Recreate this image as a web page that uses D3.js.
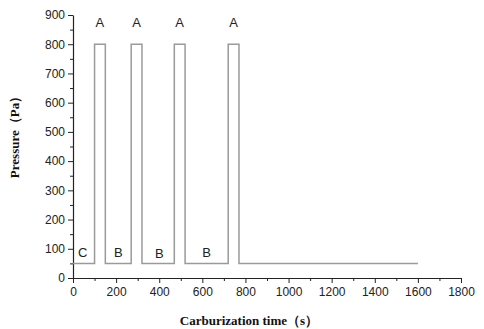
<!DOCTYPE html>
<html>
<head>
<meta charset="utf-8">
<script src="https://cdn.jsdelivr.net/npm/d3@7"></script>
<style>
  body { margin: 0; background: #fff; }
  svg { display: block; }
</style>
</head>
<body>
<script>
// pressure program: [time (s), pressure (Pa)]
const timeSteps = [0, 100, 100, 150, 150, 270, 270, 320, 320, 470, 470, 520, 520, 720, 720, 770, 770, 1600];
const pressureSteps = [50, 50, 800, 800, 50, 50, 800, 800, 50, 50, 800, 800, 50, 50, 800, 800, 50, 50];

// phase labels
const phaseNames = ["C", "A", "B", "A", "B", "A", "B", "A"];
const phaseTimes = [45, 125, 210, 295, 400, 495, 620, 745];
const phaseLevels = [85, 870, 85, 870, 80, 870, 85, 870];

const xTicks = [0, 200, 400, 600, 800, 1000, 1200, 1400, 1600, 1800];
const yTicks = [0, 100, 200, 300, 400, 500, 600, 700, 800, 900];

const width = 484, height = 329;
const margin = {left: 73, right: 23, top: 15, bottom: 51};

const svg = d3.select("body").append("svg")
    .attr("width", width)
    .attr("height", height);

const x = d3.scaleLinear().domain([0, 1800]).range([margin.left, width - margin.right]);
const y = d3.scaleLinear().domain([0, 900]).range([height - margin.bottom, margin.top]);

// minor ticks first
svg.append("g")
    .attr("transform", `translate(0,${y(0)})`)
    .call(d3.axisBottom(x).tickValues(d3.range(100, 1800, 200)).tickSize(3).tickFormat(""))
    .call(g => g.select(".domain").remove())
    .selectAll("line").attr("stroke", "#222");

svg.append("g")
    .attr("transform", `translate(${x(0)},0)`)
    .call(d3.axisLeft(y).tickValues(d3.range(50, 900, 100)).tickSize(3).tickFormat(""))
    .call(g => g.select(".domain").remove())
    .selectAll("line").attr("stroke", "#222");

// major axes
const xAxis = svg.append("g")
    .attr("transform", `translate(0,${y(0)})`)
    .call(d3.axisBottom(x).tickValues(xTicks).tickFormat(d3.format("d")).tickSize(5).tickSizeOuter(0).tickPadding(4));

const yAxis = svg.append("g")
    .attr("transform", `translate(${x(0)},0)`)
    .call(d3.axisLeft(y).tickValues(yTicks).tickFormat(d3.format("d")).tickSize(5).tickSizeOuter(0).tickPadding(3));

[xAxis, yAxis].forEach(g => {
    g.select(".domain").attr("stroke", "#222").attr("stroke-width", 1.2);
    g.selectAll(".tick line").attr("stroke", "#222");
    g.selectAll(".tick text")
        .attr("fill", "#222")
        .style("font-family", "Arial, 'Liberation Sans', sans-serif")
        .style("font-size", "12px");
});

// pressure line
const pts = timeSteps.map((t, i) => [t, pressureSteps[i]]);
svg.append("path")
    .datum(pts)
    .attr("fill", "none")
    .attr("stroke", "#9a9a9a")
    .attr("stroke-width", 1.5)
    .attr("d", d3.line().x(d => x(d[0])).y(d => y(d[1])));

// phase labels
svg.selectAll(".phase")
    .data(phaseNames)
    .enter().append("text")
    .attr("class", "phase")
    .attr("x", (d, i) => x(phaseTimes[i]))
    .attr("y", (d, i) => y(phaseLevels[i]))
    .attr("text-anchor", "middle")
    .attr("dominant-baseline", "middle")
    .style("font-family", "Arial, 'Liberation Sans', sans-serif")
    .style("font-size", "13px")
    .attr("fill", "#222")
    .text(d => d);

// axis titles
svg.append("text")
    .attr("transform", `translate(19,134) rotate(-90)`)
    .attr("text-anchor", "middle")
    .style("font-family", "'Liberation Serif', 'Times New Roman', serif")
    .style("font-weight", "bold")
    .style("font-size", "13px")
    .attr("fill", "#111")
    .text("Pressure（Pa）");

svg.append("text")
    .attr("x", 249)
    .attr("y", 325)
    .attr("text-anchor", "middle")
    .style("font-family", "'Liberation Serif', 'Times New Roman', serif")
    .style("font-weight", "bold")
    .style("font-size", "13px")
    .attr("fill", "#111")
    .text("Carburization time（s）");
</script>
</body>
</html>
